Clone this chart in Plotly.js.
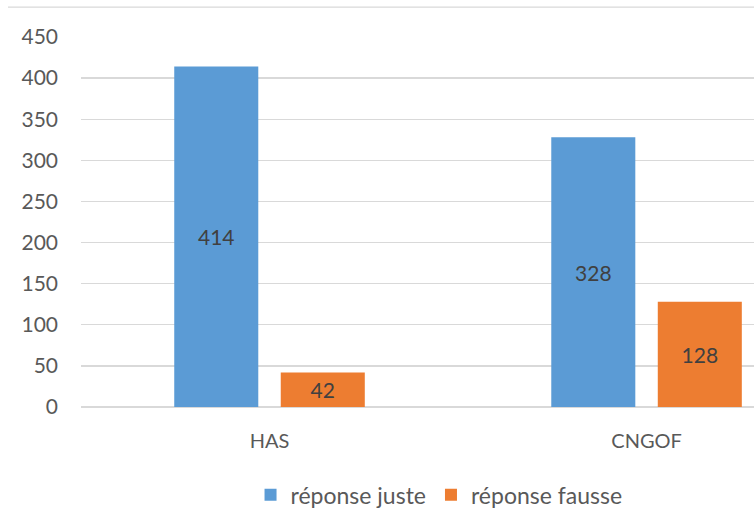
<!DOCTYPE html>
<html>
<head>
<meta charset="utf-8">
<script src="https://cdn.plot.ly/plotly-3.0.1.min.js"></script>
<style>html,body{margin:0;padding:0;background:#fff;}#chart{width:754px;height:508px;}</style>
</head>
<body>
<div id="chart"></div>
<script>
const categories = ["HAS", "CNGOF"];
const seriesNames = ["réponse juste", "réponse fausse"];
const justeValues = [414, 328];
const fausseValues = [42, 128];
const yTicks = [0, 50, 100, 150, 200, 250, 300, 350, 400, 450];

const FONT = "Lato, 'Open Sans', sans-serif";
const textCol = "#595959";

const traces = [
  {type: "bar", name: seriesNames[0], x: categories, y: justeValues,
   marker: {color: "#5B9BD5"}, text: justeValues.map(String),
   textposition: "inside", insidetextanchor: "middle", constraintext: "none",
   textfont: {family: FONT, size: 21, color: "#404040"}, hoverinfo: "none"},
  {type: "bar", name: seriesNames[1], x: categories, y: fausseValues,
   marker: {color: "#ED7D31"}, text: fausseValues.map(String),
   textposition: "inside", insidetextanchor: "middle", constraintext: "none",
   textfont: {family: FONT, size: 21, color: "#404040"}, hoverinfo: "none"}
];

const layout = {
  width: 754, height: 508,
  margin: {l: 81, r: 0, t: 37, b: 101, autoexpand: false},
  paper_bgcolor: "#fff", plot_bgcolor: "#fff",
  font: {family: FONT, size: 20, color: textCol},
  barmode: "group", bargap: 0.435, bargroupgap: 0.211,
  showlegend: true,
  legend: {orientation: "h", x: 0.532, xanchor: "center", y: -0.237, yanchor: "middle",
           font: {family: FONT, size: 23, color: textCol}, itemwidth: 30, traceorder: "normal"},
  xaxis: {range: [-0.5, 1.285], showgrid: false, zeroline: false, showline: false,
          ticks: "", tickfont: {family: FONT, size: 20, color: textCol}, ticklabelstandoff: 20},
  yaxis: {range: [0, 450], tickvals: yTicks, showgrid: true, gridcolor: "#D9D9D9", gridwidth: 1.3,
          zeroline: true, zerolinecolor: "#D9D9D9", zerolinewidth: 1.3, showline: false, ticks: "",
          tickfont: {family: FONT, size: 21, color: textCol}, ticklabelstandoff: 22},
  shapes: [{type: "line", xref: "paper", yref: "paper", x0: -0.1085, x1: 1.0, y0: 1.0809, y1: 1.0809,
            line: {color: "#D9D9D9", width: 1.3}}]
};

Plotly.newPlot("chart", traces, layout, {displayModeBar: false, staticPlot: true});
</script>
</body>
</html>
